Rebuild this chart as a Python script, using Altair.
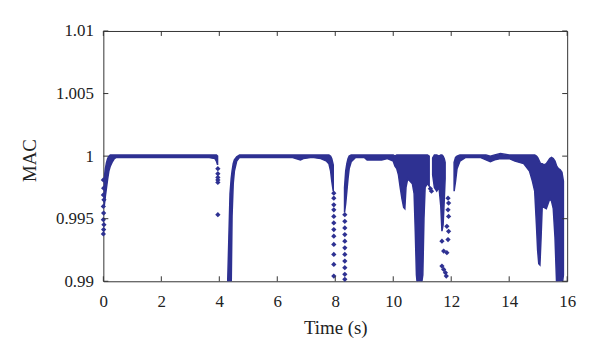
import altair as alt
import pandas as pd

BLUE = "#2e3192"
FRAME = "#333333"
FONT = "Liberation Serif"

X_TICKS = [0, 2, 4, 6, 8, 10, 12, 14, 16]
Y_TICKS = [0.99, 0.995, 1.0, 1.005, 1.01]

# Dense bands (time, lower envelope, upper envelope)
A_T = [0.03, 0.07, 0.11, 0.15, 0.19, 0.24, 0.30, 0.38, 0.45, 1.0, 2.0, 3.0, 3.6, 3.85, 3.90, 3.94]
A_LO = [0.9960, 0.9968, 0.9975, 0.9982, 0.9988, 0.9992, 0.9995, 0.9998, 0.9999, 0.9999, 0.9999, 0.9999, 0.9999, 0.9998, 0.9996, 0.9993]
A_HI = [0.9982, 0.9990, 0.9995, 0.9998, 1.0000, 1.0001, 1.0001, 1.0001, 1.0001, 1.0001, 1.0001, 1.0001, 1.0001, 1.0001, 1.0001, 1.0000]

B_T = [4.29, 4.33, 4.37, 4.41, 4.44, 4.48, 4.52, 4.60, 4.70, 5.50, 6.50, 6.80, 6.90, 7.20, 7.50, 7.70, 7.78, 7.84, 7.88, 7.93]
B_LO = [0.9895, 0.9895, 0.9895, 0.9895, 0.9952, 0.9978, 0.9988, 0.9996, 0.9999, 0.9999, 0.9999, 0.9997, 0.9998, 0.9999, 0.9998, 0.9996, 0.9994, 0.9988, 0.9980, 0.9972]
B_HI = [0.9900, 0.9935, 0.9970, 0.9982, 0.9988, 0.9994, 0.9997, 0.99995, 1.0001, 1.0001, 1.0001, 1.0001, 1.0001, 1.0001, 1.0001, 1.0001, 1.0001, 1.0000, 0.9998, 0.9993]

C_T = [8.32, 8.36, 8.40, 8.44, 8.48, 8.55, 8.70, 9.00, 9.10, 9.30,
       9.60, 9.80, 10.00, 10.06, 10.12, 10.18, 10.24, 10.30, 10.36, 10.40,
       10.44, 10.50, 10.58, 10.66, 10.72, 10.76, 10.80, 10.84, 10.96, 11.02,
       11.06, 11.10, 11.18, 11.24]
C_LO = [0.9955, 0.9962, 0.9972, 0.9982, 0.9990, 0.99955, 0.9999, 0.9999, 0.9997, 0.9997,
        0.9997, 0.9998, 0.9996, 0.9992, 0.9990, 0.9985, 0.9975, 0.9966, 0.9959, 0.9958,
        0.9975, 0.9982, 0.9980, 0.9978, 0.9970, 0.9940, 0.9905, 0.9895, 0.9895, 0.9905,
        0.9950, 0.9975, 0.9978, 0.9976]
C_HI = [0.9975, 0.9988, 0.9994, 0.9998, 1.0000, 1.0001, 1.0001, 1.0001, 1.0001, 1.0001,
        1.0001, 1.0001, 1.0001, 1.0000, 1.0001, 1.0001, 1.0001, 1.0001, 1.0001, 1.0001,
        1.0001, 1.0001, 1.0001, 1.0001, 1.0001, 1.0001, 1.0001, 1.0001, 1.0001, 1.0001,
        1.0001, 1.0001, 1.0001, 1.0000]

C2_T = [11.36, 11.42, 11.50, 11.58, 11.64, 11.68, 11.72, 11.76, 11.79]
C2_LO = [0.9985, 0.9975, 0.9972, 0.9975, 0.9960, 0.9940, 0.9945, 0.9965, 0.9982]
C2_HI = [0.99985, 1.0001, 1.0001, 1.0000, 1.0001, 1.0001, 1.0000, 0.9998, 0.9995]

D_T = [12.10, 12.15, 12.20, 12.30, 12.50, 13.00, 13.20, 13.35, 13.50, 13.70,
       14.00, 14.20, 14.50, 14.70, 14.80, 14.88, 14.94, 14.98, 15.02, 15.06,
       15.10, 15.14, 15.20, 15.28, 15.34, 15.40, 15.46, 15.52, 15.58, 15.64,
       15.70, 15.76, 15.82, 15.87]
D_LO = [0.9972, 0.9980, 0.9990, 0.9996, 0.9999, 0.9999, 0.9997, 0.99955, 0.9997, 0.9998,
        0.9998, 0.9996, 0.9994, 0.9988, 0.9980, 0.9972, 0.9945, 0.9925, 0.9914, 0.9913,
        0.9935, 0.9960, 0.9959, 0.9958, 0.9962, 0.9966, 0.9964, 0.9958, 0.9935, 0.9895,
        0.9895, 0.9895, 0.9895, 0.9905]
D_HI = [0.9995, 0.9999, 1.0000, 1.0001, 1.0001, 1.0001, 1.0001, 1.0000, 1.0001, 1.0002,
        1.0001, 1.0001, 1.0001, 1.0001, 1.0001, 1.0001, 1.0000, 0.9999, 0.9997, 0.9995,
        0.9994, 0.9994, 0.9993, 0.9994, 0.9996, 0.9998, 0.9999, 0.9998, 0.9996, 0.9992,
        0.9990, 0.9989, 0.9987, 0.9980]

# Isolated markers
DOT_T = [0.00, 0.01, 0.00, 0.02, 0.00, 0.01, 0.00, 0.02, 0.01, 0.00,
         3.95, 3.95, 3.95, 3.95, 3.95, 3.95,
         7.95, 7.95, 7.95, 7.95, 7.95, 7.95, 7.95, 7.95, 7.95, 7.95, 7.95, 7.95,
         8.33, 8.33, 8.33, 8.33, 8.33, 8.33, 8.33, 8.33, 8.33, 8.33, 8.33,
         11.28, 11.32,
         11.89, 11.91, 11.89, 11.91, 11.85, 11.91, 11.89, 11.68, 11.74, 11.85,
         11.68, 11.74, 11.80, 11.83]
DOT_V = [0.99810, 0.99744, 0.99690, 0.99651, 0.99598, 0.99545, 0.99492, 0.99452, 0.99413, 0.99378,
         0.99900, 0.99860, 0.99830, 0.99810, 0.99790, 0.99532,
         0.99704, 0.99664, 0.99611, 0.99571, 0.99518, 0.99466, 0.99413, 0.99360, 0.99294, 0.99214, 0.99135, 0.99042,
         0.99016, 0.99056, 0.99109, 0.99161, 0.99214, 0.99267, 0.99320, 0.99373, 0.99426, 0.99479, 0.99532,
         0.99740, 0.99720,
         0.99664, 0.99625, 0.99571, 0.99518, 0.99439, 0.99399, 0.99333, 0.99320, 0.99241, 0.99228,
         0.99122, 0.99095, 0.99069, 0.99042]

SEGMENTS = [("A", A_T, A_LO, A_HI), ("B", B_T, B_LO, B_HI), ("C", C_T, C_LO, C_HI),
            ("C2", C2_T, C2_LO, C2_HI), ("D", D_T, D_LO, D_HI)]

rows = []
for name, ts, los, his in SEGMENTS:
    for t, lo, hi in zip(ts, los, his):
        rows.append({"seg": name, "t": t, "lo": lo, "hi": hi})
band_df = pd.DataFrame(rows)
dots_df = pd.DataFrame({"t": DOT_T, "v": DOT_V})
xt_df = pd.DataFrame({"t": X_TICKS})
yt_df = pd.DataFrame({"v": Y_TICKS})

W, H = 467, 252
xs = alt.Scale(domain=[0, 16], nice=False, zero=False)
ys = alt.Scale(domain=[0.99, 1.01], nice=False, zero=False)

AXIS_STYLE = dict(ticks=False, domain=False, grid=False, labelFlush=False,
                  labelFont=FONT, labelFontSize=17, labelColor="#222222",
                  titleFont=FONT, titleFontSize=19, titleFontWeight="normal", titleColor="#222222")

x_axis = alt.Axis(values=X_TICKS, format="d", title="Time (s)", labelPadding=12,
                  titleY=53, titleBaseline="alphabetic", **AXIS_STYLE)
y_axis = alt.Axis(values=Y_TICKS, format="~g", title="MAC", labelPadding=10,
                  titleX=-74, titleY=130, titleAngle=270, titleAlign="center", titleBaseline="middle",
                  **AXIS_STYLE)

X_ENC = alt.X("t:Q", scale=xs, axis=x_axis, title="Time (s)")

band = alt.Chart(band_df).mark_area(color=BLUE, stroke=BLUE, strokeWidth=1.5, clip=True,
                                    interpolate="linear", opacity=1).encode(
    x=X_ENC,
    y=alt.Y("lo:Q", scale=ys, axis=y_axis, title="MAC"),
    y2="hi:Q",
    detail="seg:N",
)

dots = alt.Chart(dots_df).mark_point(shape="diamond", filled=True, size=28, color=BLUE, opacity=1).encode(
    x=X_ENC,
    y=alt.Y("v:Q", scale=ys, axis=y_axis, title="MAC"),
)

tick_bottom = alt.Chart(xt_df).mark_rule(color=FRAME, strokeWidth=1).encode(
    x=X_ENC, y=alt.value(H), y2=alt.value(H - 5))
tick_top = alt.Chart(xt_df).mark_rule(color=FRAME, strokeWidth=1).encode(
    x=X_ENC, y=alt.value(0), y2=alt.value(5))
tick_left = alt.Chart(yt_df).mark_rule(color=FRAME, strokeWidth=1).encode(
    y=alt.Y("v:Q", scale=ys, axis=y_axis, title="MAC"), x=alt.value(0), x2=alt.value(5))
tick_right = alt.Chart(yt_df).mark_rule(color=FRAME, strokeWidth=1).encode(
    y=alt.Y("v:Q", scale=ys, axis=y_axis, title="MAC"), x=alt.value(W), x2=alt.value(W - 5))

chart = alt.layer(band, dots, tick_bottom, tick_top, tick_left, tick_right).properties(
    width=W, height=H, autosize="none",
    padding={"left": 96, "top": 22, "right": 25, "bottom": 60},
    background="white",
).configure(
    font=FONT,
    style={"guide-label": {"font": FONT, "fontSize": 17, "fill": "#222222"},
           "guide-title": {"font": FONT, "fontSize": 19, "fontWeight": "normal", "fill": "#222222"}},
).configure_view(stroke=FRAME, strokeWidth=1).configure_axis(
    labelFont=FONT, labelFontSize=17, labelColor="#222222",
    titleFont=FONT, titleFontSize=19, titleFontWeight="normal", titleColor="#222222",
)

chart.save("out.html", embed_options={"renderer": "svg", "actions": False})
